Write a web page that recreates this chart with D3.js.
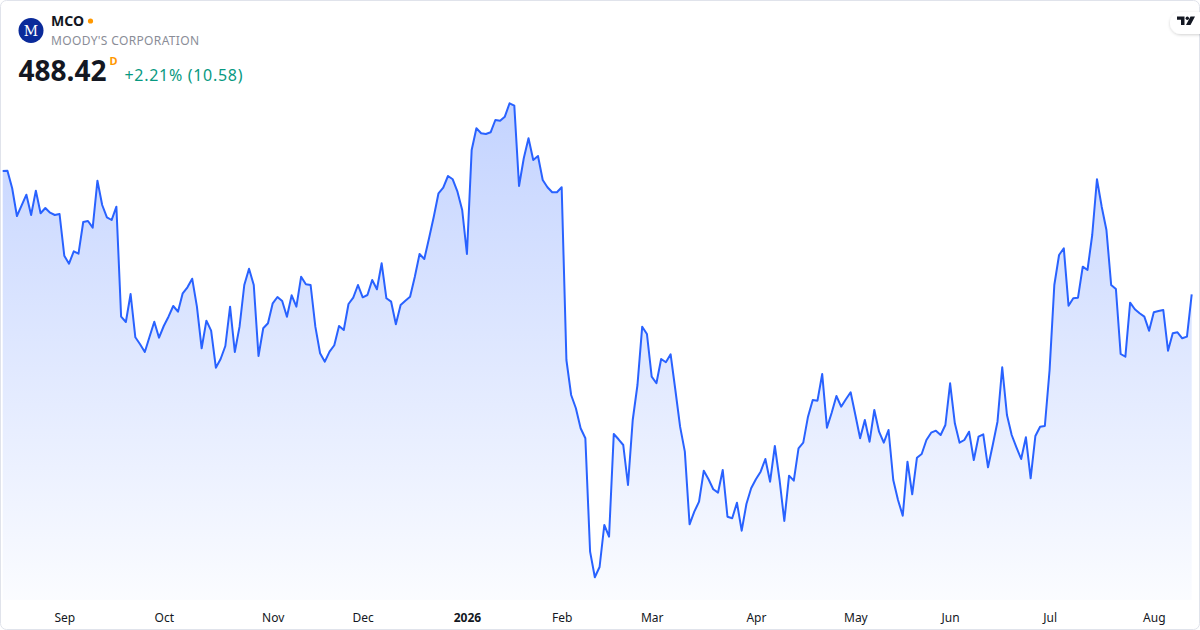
<!DOCTYPE html>
<html>
<head>
<meta charset="utf-8">
<script src="https://cdn.jsdelivr.net/npm/d3@7"></script>
<style>
	html, body { margin: 0; padding: 0; background: #fff; }
	body { width: 1200px; height: 630px; overflow: hidden; font-family: "Noto Sans", "Open Sans", sans-serif; }
</style>
</head>
<body>
<div id="chart"></div>
<script>
// daily closes, one per trading day (Aug 2025 - Aug 2026)
const prices = [
	519.25, 519.33, 514.93, 508.0, 510.68, 513.33, 508.25, 514.33, 508.68, 510.0,
	508.83, 508.25, 508.5, 498.08, 496.08, 499.18, 498.58, 506.5, 506.75, 505.08,
	516.83, 510.75, 507.68, 507.0, 510.33, 482.83, 481.5, 488.5, 477.68, 475.93,
	474.0, 477.83, 481.58, 477.58, 480.5, 482.83, 485.5, 484.08, 488.68, 490.18,
	492.33, 485.33, 474.93, 481.83, 479.33, 470.08, 472.25, 475.5, 485.33, 474.0,
	480.33, 490.75, 494.83, 490.75, 473.0, 479.93, 481.18, 486.18, 487.75, 486.75,
	482.83, 488.18, 485.33, 492.83, 490.93, 490.75, 480.33, 473.68, 471.58, 474.08,
	475.68, 480.5, 479.5, 486.0, 487.58, 490.75, 487.68, 488.25, 492.0, 489.68,
	496.18, 487.43, 486.58, 480.93, 485.75, 486.83, 487.83, 492.83, 498.5, 497.25,
	502.43, 507.83, 513.68, 515.08, 518.0, 517.18, 514.08, 509.5, 498.5, 524.5,
	529.93, 528.68, 528.5, 528.93, 532.0, 531.83, 532.83, 536.18, 535.58, 515.5,
	522.43, 527.43, 522.0, 523.0, 517.0, 515.18, 513.93, 513.93, 515.18, 472.0,
	463.25, 459.93, 454.93, 452.43, 424.08, 417.68, 420.25, 430.75, 427.83, 453.5,
	452.18, 450.75, 440.75, 457.0, 465.75, 480.33, 478.5, 467.83, 466.18, 472.25,
	471.43, 473.43, 464.5, 455.33, 449.08, 430.93, 434.08, 436.58, 444.33, 442.18,
	439.68, 438.83, 444.5, 432.83, 432.43, 436.33, 429.33, 436.0, 439.93, 442.18,
	444.08, 447.25, 441.58, 450.5, 442.0, 431.75, 443.08, 441.83, 449.93, 451.33,
	457.83, 462.0, 461.83, 468.5, 455.08, 458.83, 463.0, 460.33, 462.18, 463.93,
	458.25, 452.43, 457.0, 451.58, 459.5, 454.08, 451.33, 454.5, 442.0, 437.0,
	433.08, 446.58, 438.43, 447.58, 448.5, 452.0, 453.83, 454.33, 453.25, 455.75,
	466.18, 456.18, 451.33, 452.0, 454.08, 447.0, 452.83, 453.43, 445.18, 450.75,
	456.58, 470.18, 458.25, 453.25, 450.18, 447.25, 452.68, 442.43, 453.0, 455.33,
	455.5, 469.5, 490.75, 498.25, 499.93, 485.58, 487.43, 487.58, 495.33, 494.5,
	503.25, 517.18, 510.33, 504.5, 490.75, 489.75, 473.5, 472.83, 486.33, 484.68,
	483.68, 482.83, 479.33, 483.93, 484.25, 484.5, 474.33, 478.68, 478.93, 477.43,
	477.84, 488.42
];

// month labels and the trading-day index they sit on
const tickLabels = ["Sep", "Oct", "Nov", "Dec", "2026", "Feb", "Mar", "Apr", "May", "Jun", "Jul", "Aug"];
const tickIndex = [13, 34, 57, 76, 98, 118, 137, 159, 180, 200, 221, 243];

const symbol = "MCO";
const companyName = "MOODY'S CORPORATION";
const lastPrice = "488.42";
const change = "+2.21% (10.58)";

const width = 1200;
const height = 630;
const lineColor = "#2962FF";

const svg = d3
	.select("#chart")
	.append("svg")
	.attr("width", width)
	.attr("height", height)
	.attr("viewBox", [0, 0, width, height]);

const defs = svg.append("defs");

const grad = defs
	.append("linearGradient")
	.attr("id", "area-grad")
	.attr("gradientUnits", "userSpaceOnUse")
	.attr("x1", 0)
	.attr("x2", 0)
	.attr("y1", 100)
	.attr("y2", 600);
grad.append("stop").attr("offset", 0).attr("stop-color", lineColor).attr("stop-opacity", 0.28);
grad.append("stop").attr("offset", 1).attr("stop-color", lineColor).attr("stop-opacity", 0.02);

const shadow = defs.append("filter").attr("id", "pill-shadow").attr("x", "-50%").attr("y", "-50%").attr("width", "200%").attr("height", "200%");
shadow
	.append("feDropShadow")
	.attr("dx", 0)
	.attr("dy", 1)
	.attr("stdDeviation", 1.5)
	.attr("flood-color", "#000")
	.attr("flood-opacity", 0.18);

// card
svg
	.append("rect")
	.attr("x", 0.5)
	.attr("y", 0.5)
	.attr("width", width - 1)
	.attr("height", height - 1)
	.attr("rx", 6)
	.attr("fill", "#fff")
	.attr("stroke", "#e0e3eb");

// scales
const x = d3
	.scaleLinear()
	.domain([0, prices.length - 1])
	.range([2.7, 1191.7]);

const y = d3.scaleLinear().domain([412, 537]).range([600, 100]);

const area = d3
	.area()
	.x((d, i) => x(i))
	.y0(600)
	.y1((d) => y(d));

const line = d3
	.line()
	.x((d, i) => x(i))
	.y((d) => y(d));

svg.append("path").datum(prices).attr("d", area).attr("fill", "url(#area-grad)");

svg
	.append("path")
	.datum(prices)
	.attr("d", line)
	.attr("fill", "none")
	.attr("stroke", lineColor)
	.attr("stroke-width", 2)
	.attr("stroke-linejoin", "round");

// x axis, labels only
const xAxis = svg
	.append("g")
	.attr("transform", "translate(0, 606)")
	.call(
		d3
			.axisBottom(x)
			.tickValues(tickIndex)
			.tickFormat((d, i) => tickLabels[i])
			.tickSize(0)
			.tickPadding(0)
	);
xAxis.select(".domain").remove();
xAxis
	.selectAll("text")
	.attr("dy", 0)
	.attr("y", 16)
	.attr("font-family", "'Noto Sans', 'Open Sans', sans-serif")
	.attr("font-size", 12)
	.attr("fill", "#131722")
	.attr("font-weight", (d, i) => (tickLabels[i] === "2026" ? "bold" : "normal"));

// header
const header = svg.append("g");

header.append("circle").attr("cx", 31).attr("cy", 30.5).attr("r", 12.5).attr("fill", "#0a2a9a");
header
	.append("text")
	.attr("x", 31)
	.attr("y", 35.5)
	.attr("text-anchor", "middle")
	.attr("font-family", "'DejaVu Serif', 'Liberation Serif', serif")
	.attr("font-size", 14)
	.attr("fill", "#fff")
	.text("M");

header
	.append("text")
	.attr("x", 51)
	.attr("y", 26)
	.attr("font-size", 14)
	.attr("font-weight", "bold")
	.attr("fill", "#131722")
	.text(symbol);

header.append("circle").attr("cx", 90.5).attr("cy", 21).attr("r", 2.6).attr("fill", "#ff9800");

header
	.append("text")
	.attr("x", 51)
	.attr("y", 45)
	.attr("font-size", 12)
	.attr("fill", "#8a8d97")
	.attr("letter-spacing", 0.35)
	.text(companyName);

header
	.append("text")
	.attr("x", 18.5)
	.attr("y", 81)
	.attr("font-size", 28)
	.attr("font-weight", "bold")
	.attr("fill", "#131722")
	.text(lastPrice);

header
	.append("text")
	.attr("x", 109.5)
	.attr("y", 65)
	.attr("font-size", 11)
	.attr("font-weight", "bold")
	.attr("fill", "#ff9800")
	.text("D");

header
	.append("text")
	.attr("x", 124.5)
	.attr("y", 80.5)
	.attr("font-size", 16)
	.attr("letter-spacing", 0.7)
	.attr("fill", "#089981")
	.text(change);

// tradingview badge, top right
const badge = svg.append("g");
badge
	.append("rect")
	.attr("x", 1170)
	.attr("y", 12)
	.attr("width", 40)
	.attr("height", 22)
	.attr("rx", 11)
	.attr("fill", "#fff")
	.attr("filter", "url(#pill-shadow)");
badge.append("path").attr("d", "M1177,16.5 H1184.5 V25 H1181 V19.8 H1177 Z").attr("fill", "#131722");
badge.append("circle").attr("cx", 1187.3).attr("cy", 18.2).attr("r", 1.7).attr("fill", "#131722");
badge.append("path").attr("d", "M1190.5,16.5 H1195 L1190.5,25 H1186 Z").attr("fill", "#131722");
</script>
</body>
</html>
